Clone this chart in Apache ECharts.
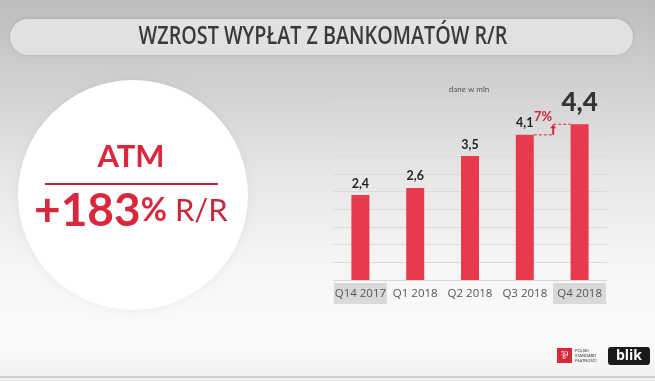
<!DOCTYPE html>
<html><head><meta charset="utf-8">
<script src="https://cdn.jsdelivr.net/npm/echarts@6/dist/echarts.min.js"></script>
<style>html,body{margin:0;padding:0;}#c{width:655px;height:381px;}</style>
</head><body><div id="c"></div>
<script>
var categories = ['Q14 2017', 'Q1 2018', 'Q2 2018', 'Q3 2018', 'Q4 2018'];
var values = [2.4, 2.6, 3.5, 4.1, 4.4];
var highlighted = ['Q14 2017', 'Q4 2018'];
var title = 'WZROST WYPŁAT Z BANKOMATÓW R/R';
var unitNote = 'dane w mln';
var growthLabel = '7%';
var kpiName = 'ATM';
var kpiValue = '+183';
var kpiSuffix = 'R/R';

var RED = '#e63a4d';
var FONT = 'Lato, "Open Sans", sans-serif';
function fmt(v){ return String(v).replace('.', ','); }

var chart = echarts.init(document.getElementById('c'));
var barData = values.map(function(v, i){
  var item = {value: v};
  if (i === values.length - 1) {
    item.label = {fontSize: 26, fontWeight: 900, distance: 9, color: '#333'};
  }
  return item;
});

chart.setOption({
  animation: false,
  textStyle: {fontFamily: FONT},
  graphic: [
    {type:'rect', z:-10, shape:{x:0,y:0,width:655,height:381},
     style:{fill:{type:'linear',x:0,y:0,x2:0,y2:1,colorStops:[
       {offset:0,color:'#bcbcbc'},{offset:0.2,color:'#cfcfcf'},{offset:0.45,color:'#e6e6e6'},
       {offset:0.7,color:'#f6f6f6'},{offset:0.9,color:'#fbfbfb'},{offset:1,color:'#f0f0f0'}]}}},
    {type:'rect', z:-5, shape:{x:10,y:19,width:623,height:36,r:18},
     style:{fill:'#e1e1e1', shadowBlur:3, shadowColor:'rgba(0,0,0,0.15)'}},
    {type:'text', z:-4, x:323, y:37, scaleX:0.79, originX:0, originY:0,
     style:{text:title, fontFamily:'"Open Sans", Lato, sans-serif', fontWeight:600, fontSize:25, fill:'#3a3a3a',
            align:'center', verticalAlign:'middle'}},
    {type:'circle', z:-5, shape:{cx:133,cy:195,r:115},
     style:{fill:'#ffffff', shadowBlur:10, shadowColor:'rgba(0,0,0,0.06)'}},
    {type:'text', z:-4, x:131, y:157,
     style:{text:kpiName, fontFamily:FONT, fontWeight:'bold', fontSize:31, fill:'#d9283d',
            align:'center', verticalAlign:'middle'}},
    {type:'line', z:-4, shape:{x1:45,y1:184,x2:218,y2:184}, style:{stroke:'#b8283b', lineWidth:2}},
    {type:'text', z:-4, x:34, y:234,
     style:{text:'{a|' + kpiValue + '}{b|%}{c| ' + kpiSuffix + '}', fontFamily:FONT,
            verticalAlign:'bottom', align:'left',
            rich:{
              a:{fontFamily:FONT, fontWeight:'bold', fontSize:46, fill:'#d9283d'},
              b:{fontFamily:FONT, fontWeight:'bold', fontSize:32, fill:'#d9283d'},
              c:{fontFamily:FONT, fontSize:31, fill:'#c8283c'}
            }}},
    {type:'text', z:-4, x:469, y:89,
     style:{text:unitNote, fontFamily:FONT, fontSize:8, fill:'#555', align:'center', verticalAlign:'middle'}},
    {type:'line', z:-4, shape:{x1:0,y1:377,x2:655,y2:377}, style:{stroke:'#cfcfcf', lineWidth:2}},
    {type:'rect', z:-4, shape:{x:557,y:348,width:15,height:15}, style:{fill:'#d8283c'}},
    {type:'text', z:-3, x:564.5, y:355.5,
     style:{text:'⅌', fontSize:11, fill:'#fff', align:'center', verticalAlign:'middle'}},
    {type:'text', z:-4, x:575, y:355.5,
     style:{text:'POLSKI\nSTANDARD\nPŁATNOŚCI', fontFamily:FONT, fontSize:4, lineHeight:5, fill:'#333', verticalAlign:'middle'}},
    {type:'rect', z:-4, shape:{x:608,y:347,width:42,height:18,r:3}, style:{fill:'#1a1a1a'}},
    {type:'text', z:-3, x:629, y:356,
     style:{text:'blik', fontFamily:'"Open Sans", sans-serif', fontWeight:'bold', fontSize:14, fill:'#fff', align:'center', verticalAlign:'middle'}}
  ],
  grid: {left:333, right:48, top:103, bottom:101},
  xAxis: {
    type:'category', data:categories,
    axisTick:{show:false},
    axisLine:{show:true, lineStyle:{color:'#d6d6d6'}},
    axisLabel:{
      interval:0, margin:3, fontFamily:'"Open Sans", Lato, sans-serif', fontSize:12, color:'#555',
      formatter:function(v){ return highlighted.indexOf(v) >= 0 ? '{h|' + v + '}' : '{n|' + v + '}'; },
      rich:{
        h:{backgroundColor:'#d9d9d9', width:53, height:21, align:'center', fontSize:11.5, color:'#555', fontFamily:'"Open Sans", Lato, sans-serif'},
        n:{width:53, height:21, align:'center', fontSize:11.5, color:'#555', fontFamily:'"Open Sans", Lato, sans-serif'}
      }
    }
  },
  yAxis: {
    type:'value', min:0, max:5, interval:0.5,
    axisLabel:{show:false}, axisLine:{show:false}, axisTick:{show:false},
    splitLine:{lineStyle:{color:'#dadada'}}
  },
  series: [{
    type:'bar', data:barData, barWidth:18,
    itemStyle:{color:RED},
    label:{show:true, position:'top', distance:5, fontFamily:FONT, fontWeight:'bold', fontSize:12.5, color:'#222',
           formatter:function(p){ return fmt(p.value); }}
  }]
});

// growth annotation between the last two bars, positioned through the axes
var n = values.length;
var pA = chart.convertToPixel({seriesIndex:0}, [n-2, values[n-2]]);
var pB = chart.convertToPixel({seriesIndex:0}, [n-1, values[n-1]]);
var half = 9;
var ax = (pA[0] + half + pB[0] - half) / 2 + 1;
chart.setOption({graphic: chart.getOption().graphic[0].elements.concat([
  {type:'line', shape:{x1:pA[0]+half, y1:pA[1], x2:ax, y2:pA[1]}, style:{stroke:'#d8283c', lineWidth:1, lineDash:[3,2]}},
  {type:'line', shape:{x1:ax, y1:pB[1], x2:pB[0]-half, y2:pB[1]}, style:{stroke:'#d8283c', lineWidth:1, lineDash:[3,2]}},
  {type:'line', shape:{x1:ax, y1:pA[1], x2:ax, y2:pB[1]+3}, style:{stroke:'#d8283c', lineWidth:2}},
  {type:'polygon', shape:{points:[[ax-3, pB[1]+4],[ax+3, pB[1]+4],[ax, pB[1]]]}, style:{fill:'#d8283c'}},
  {type:'text', x:ax-1, y:pB[1]-7, style:{text:growthLabel, fontFamily:FONT, fontWeight:'bold', fontSize:13, fill:'#c8283c', align:'right', verticalAlign:'middle'}}
])}, {replaceMerge:['graphic']});
</script>
</body></html>
